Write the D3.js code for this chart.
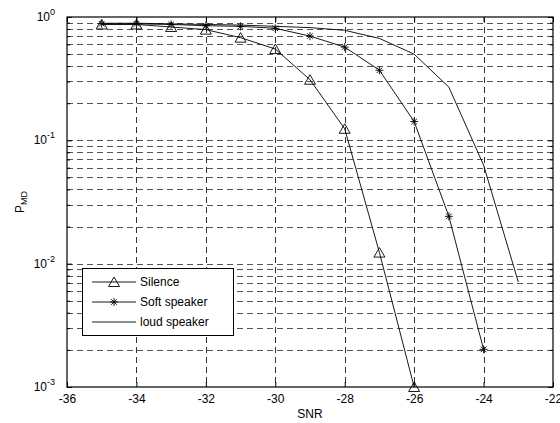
<!DOCTYPE html>
<html>
<head>
<meta charset="utf-8">
<script src="https://cdn.jsdelivr.net/npm/d3@7"></script>
<style>
  body { margin: 0; background: #fff; }
  text { font-family: Arial, "Liberation Sans", sans-serif; }
</style>
</head>
<body>
<div id="chart"></div>
<script>
var width = 560,
    height = 423,
    margin = {top: 17, bottom: 36, left: 67, right: 7};

// data
var snr = [-35, -34, -33, -32, -31, -30, -29, -28, -27, -26, -25, -24, -23];
var silence = [0.87, 0.87, 0.83, 0.79, 0.68, 0.55, 0.31, 0.124, 0.0123, 0.001];
var softSpeaker = [0.88, 0.88, 0.87, 0.85, 0.84, 0.81, 0.70, 0.57, 0.37, 0.142, 0.0242, 0.00202];
var loudSpeaker = [0.89, 0.89, 0.88, 0.87, 0.86, 0.84, 0.82, 0.78, 0.67, 0.50, 0.27, 0.063, 0.0071];
var xTicks = [-36, -34, -32, -30, -28, -26, -24, -22];
var yDecades = [-3, -2, -1, 0];
var seriesNames = ["Silence", "Soft speaker", "loud speaker"];

var svg = d3.select('#chart')
    .append('svg')
    .attr('width', width)
    .attr('height', height);

var x = d3.scaleLinear()
    .domain([-36, -22])
    .range([margin.left, width - margin.right]);

var y = d3.scaleLog()
    .domain([1e-3, 1])
    .range([height - margin.bottom, margin.top]);

// minor values 2..9 x 10^k
var minors = [];
for (var k = -3; k < 0; k++) {
    for (var m = 2; m <= 9; m++) minors.push(m * Math.pow(10, k));
}
var majors = yDecades.map(function(d) { return Math.pow(10, d); });

var grid = svg.append("g")
    .attr("stroke", "#333")
    .attr("stroke-width", 1)
    .attr("stroke-dasharray", "6,4")
    .attr("shape-rendering", "crispEdges");

grid.selectAll(".hy")
    .data(minors.concat(majors.slice(1, 3)))
    .enter().append("line")
    .attr("x1", x(-36)).attr("x2", x(-22))
    .attr("y1", function(d) { return Math.round(y(d)) + 0.5; })
    .attr("y2", function(d) { return Math.round(y(d)) + 0.5; })
    .attr("stroke", "#555");

grid.selectAll(".vx")
    .data(xTicks.slice(1, -1))
    .enter().append("line")
    .attr("x1", function(d) { return Math.round(x(d)) + 0.5; })
    .attr("x2", function(d) { return Math.round(x(d)) + 0.5; })
    .attr("y1", y(1)).attr("y2", y(1e-3));

// axes with inward ticks
var axB = svg.append("g")
    .attr("transform", "translate(0," + y(1e-3) + ")")
    .call(d3.axisBottom(x).tickValues(xTicks).tickSizeInner(-5).tickSizeOuter(0).tickPadding(7)
        .tickFormat(function(d) { return d; }));
var axT = svg.append("g")
    .attr("transform", "translate(0," + y(1) + ")")
    .call(d3.axisTop(x).tickValues(xTicks).tickSizeInner(-5).tickSizeOuter(0).tickFormat(""));
var axL = svg.append("g")
    .attr("transform", "translate(" + x(-36) + ",0)")
    .call(d3.axisLeft(y).tickValues(majors).tickSizeInner(-5).tickSizeOuter(0).tickFormat(""));
var axLm = svg.append("g")
    .attr("transform", "translate(" + x(-36) + ",0)")
    .call(d3.axisLeft(y).tickValues(minors).tickSizeInner(-3).tickSizeOuter(0).tickFormat(""));
var axR = svg.append("g")
    .attr("transform", "translate(" + x(-22) + ",0)")
    .call(d3.axisRight(y).tickValues(majors).tickSizeInner(-5).tickSizeOuter(0).tickFormat(""));
var axRm = svg.append("g")
    .attr("transform", "translate(" + x(-22) + ",0)")
    .call(d3.axisRight(y).tickValues(minors).tickSizeInner(-3).tickSizeOuter(0).tickFormat(""));

[axB, axT, axL, axLm, axR, axRm].forEach(function(g) {
    g.select(".domain").remove();
    g.selectAll("line").attr("stroke", "#000");
});
axB.selectAll("text").attr("font-size", 12).attr("fill", "#000")
    .attr("font-family", "Arial, 'Liberation Sans', sans-serif");

// box
svg.append("rect")
    .attr("x", x(-36)).attr("y", y(1))
    .attr("width", x(-22) - x(-36)).attr("height", y(1e-3) - y(1))
    .attr("fill", "none").attr("stroke", "#000").attr("stroke-width", 1.2);

// y tick labels 10^k
yDecades.forEach(function(p) {
    var t = svg.append("text")
        .attr("x", x(-36) - 12)
        .attr("y", y(Math.pow(10, p)) + 4)
        .attr("text-anchor", "end")
        .attr("font-size", 12)
        .attr("fill", "#000");
    t.append("tspan").text("10");
    t.append("tspan").attr("dy", -6).attr("font-size", 9).text(p);
});

// axis labels
svg.append("text")
    .attr("x", (x(-36) + x(-22)) / 2)
    .attr("y", 418)
    .attr("text-anchor", "middle")
    .attr("font-size", 12)
    .text("SNR");

var yl = svg.append("text")
    .attr("transform", "translate(24," + ((y(1) + y(1e-3)) / 2) + ") rotate(-90)")
    .attr("text-anchor", "middle")
    .attr("font-size", 12);
yl.append("tspan").text("P");
yl.append("tspan").attr("dy", 3).attr("font-size", 9).text("MD");

// lines
var line = d3.line()
    .x(function(d, i) { return x(snr[i]); })
    .y(function(d) { return y(d); });

var series = [silence, softSpeaker, loudSpeaker];
var lines = svg.append("g").attr("fill", "none").attr("stroke", "#000").attr("stroke-width", 0.9);
series.forEach(function(s) {
    lines.append("path").attr("d", line(s));
});

function triangle(g, cx, cy) {
    g.append("path")
        .attr("d", "M" + cx + "," + (cy - 5) + "L" + (cx + 5.5) + "," + (cy + 4.5) + "L" + (cx - 5.5) + "," + (cy + 4.5) + "Z")
        .attr("fill", "none").attr("stroke", "#000").attr("stroke-width", 0.9);
}
function star(g, cx, cy) {
    var r = 4;
    var d = "M" + (cx - r) + "," + cy + "L" + (cx + r) + "," + cy +
        "M" + cx + "," + (cy - r) + "L" + cx + "," + (cy + r) +
        "M" + (cx - r * 0.7) + "," + (cy - r * 0.7) + "L" + (cx + r * 0.7) + "," + (cy + r * 0.7) +
        "M" + (cx - r * 0.7) + "," + (cy + r * 0.7) + "L" + (cx + r * 0.7) + "," + (cy - r * 0.7);
    g.append("path").attr("d", d).attr("stroke", "#000").attr("stroke-width", 0.9).attr("fill", "none");
}

var marks = svg.append("g");
silence.forEach(function(v, i) { triangle(marks, x(snr[i]), y(v)); });
softSpeaker.forEach(function(v, i) { star(marks, x(snr[i]), y(v)); });

// legend
var leg = svg.append("g");
leg.append("rect")
    .attr("x", 82.5).attr("y", 268.5)
    .attr("width", 151).attr("height", 67)
    .attr("fill", "#fff").attr("stroke", "#000").attr("stroke-width", 1);
var rowY = [282, 302, 322];
seriesNames.forEach(function(name, j) {
    leg.append("line")
        .attr("x1", 92).attr("x2", 136)
        .attr("y1", rowY[j]).attr("y2", rowY[j])
        .attr("stroke", "#000").attr("stroke-width", 0.9);
    if (j === 0) triangle(leg, 114, rowY[j]);
    if (j === 1) star(leg, 114, rowY[j]);
    leg.append("text")
        .attr("x", 140)
        .attr("y", rowY[j] + 4)
        .attr("font-size", 12)
        .attr("fill", "#000")
        .text(name);
});
</script>
</body>
</html>
